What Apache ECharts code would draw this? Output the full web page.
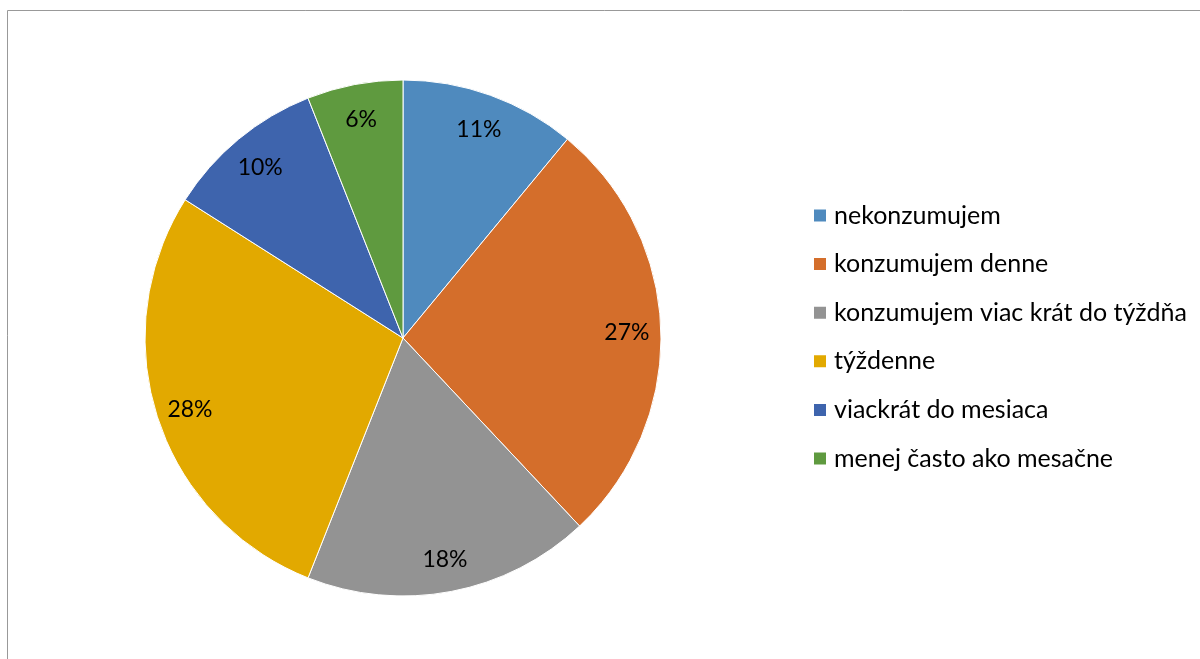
<!DOCTYPE html>
<html>
<head>
<meta charset="utf-8">
<script src="https://cdn.jsdelivr.net/npm/echarts@6/dist/echarts.min.js"></script>
<style>html,body{margin:0;padding:0;background:#fff}#c{width:1200px;height:659px}</style>
</head>
<body>
<div id="c"></div>
<script>
const categories = ['nekonzumujem', 'konzumujem denne', 'konzumujem viac krát do týždňa', 'týždenne', 'viackrát do mesiaca', 'menej často ako mesačne'];
const values = [11, 27, 18, 28, 10, 6];
const colors = ['#4F8ABE', '#D46E2B', '#939393', '#E2A900', '#3E64AD', '#5F9A3F'];

const data = categories.map((n, i) => ({ name: n, value: values[i], itemStyle: { color: colors[i] } }));
const font = 'Lato, "Open Sans", sans-serif';
const chart = echarts.init(document.getElementById('c'));
chart.setOption({
  animation: false,
  graphic: [{ type: 'rect', shape: { x: 7.5, y: 10.5, width: 1300, height: 800 }, style: { fill: 'none', stroke: '#999', lineWidth: 1 }, silent: true }],
  legend: {
    orient: 'vertical', left: 807, top: 196,
    itemWidth: 14, itemHeight: 14, itemGap: 19.6,
    icon: 'rect',
    textStyle: { fontFamily: font, fontSize: 25, lineHeight: 29, color: '#000', padding: [0, 0, 0, 2] },
    data: categories
  },
  series: [{
    type: 'pie', center: [403, 338], radius: [0, 258], startAngle: 90, clockwise: true,
    label: { show: false }, labelLine: { show: false },
    itemStyle: { borderColor: '#fff', borderWidth: 1 },
    emphasis: { disabled: true },
    data: data
  }, {
    type: 'pie', center: [403, 338], radius: [184, 258], startAngle: 90, clockwise: true,
    silent: true, legendHoverLink: false,
    itemStyle: { color: 'rgba(0,0,0,0)', borderWidth: 0 },
    label: { show: true, position: 'inside', formatter: '{c}%', fontFamily: font, fontSize: 23, color: '#000', offset: [0, 2] },
    labelLine: { show: false },
    emphasis: { disabled: true },
    data: categories.map((n, i) => ({ name: n, value: values[i] }))
  }]
});
</script>
</body>
</html>
